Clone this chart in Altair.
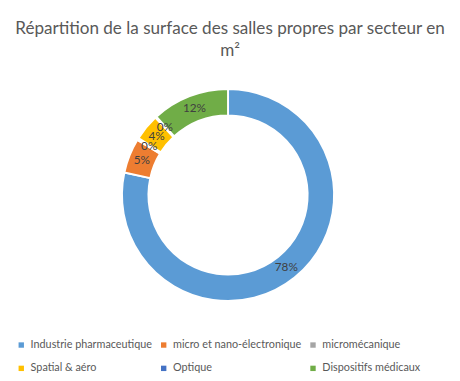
import altair as alt
import pandas as pd

categories = ["Industrie pharmaceutique", "micro et nano-électronique", "micromécanique",
              "Spatial & aéro", "Optique", "Dispositifs médicaux"]
values = [78.4, 5.3, 0.3, 4.0, 0.2, 11.8]
colors = ["#5B9BD5", "#ED7D31", "#A5A5A5", "#FFC000", "#4472C4", "#70AD47"]

df = pd.DataFrame({"secteur": categories, "valeur": values, "idx": list(range(len(categories)))})

FONT = "Lato"
TOP = 60
CX, CY = 224, 195 - 8 - TOP

base = alt.Chart(df).transform_joinaggregate(total="sum(valeur)").transform_calculate(
    pct="datum.valeur / datum.total"
).encode(
    theta=alt.Theta("valeur:Q", stack=True),
    order=alt.Order("idx:Q"),
)

arcs = base.mark_arc(innerRadius=81, outerRadius=108, stroke="white", strokeWidth=2).encode(
    x=alt.value(CX), y=alt.value(CY),
    color=alt.Color("secteur:N", scale=alt.Scale(domain=categories, range=colors),
                    sort=categories,
                    legend=alt.Legend(title=None, orient="none", legendX=8, legendY=274,
                                      direction="horizontal",
                                      columns=3, columnPadding=6, rowPadding=12,
                                      symbolType="square", symbolSize=30, symbolStrokeWidth=0,
                                      labelFont=FONT, labelFontSize=11, labelColor="#595959",
                                      labelLimit=300)),
)

labels = base.mark_text(radius=94.5, font=FONT, fontSize=12, color="#404040").encode(
    x=alt.value(CX), y=alt.value(CY),
    text=alt.Text("pct:Q", format=".0%"),
)

chart = alt.layer(arcs, labels).properties(
    width=452, height=373 - TOP,
    padding={"left": 0, "top": TOP, "right": 0, "bottom": 0},
    autosize=alt.AutoSizeParams(type="none"),
    title=alt.TitleParams(
        text=["Répartition de la surface des salles propres par secteur en", "m²"],
        font=FONT, fontSize=17.4, fontWeight="normal", color="#595959",
        anchor="middle", frame="group", offset=11, lineHeight=22,
    ),
).configure_view(stroke=None)

chart.save("out.html", embed_options={"renderer": "svg", "actions": False})
